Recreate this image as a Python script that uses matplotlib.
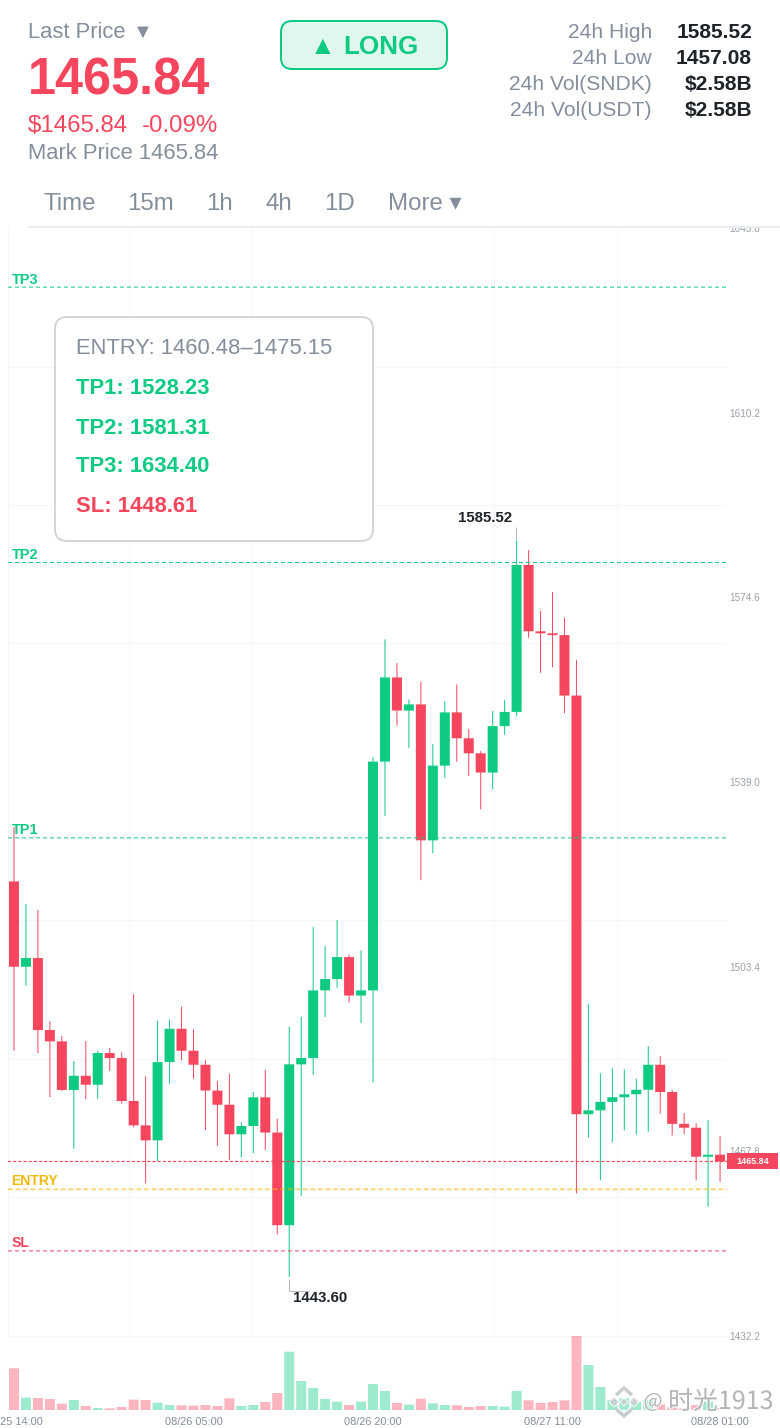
import matplotlib
matplotlib.use("Agg")
import matplotlib.pyplot as plt
import matplotlib.patheffects as pe
from matplotlib.patches import FancyBboxPatch, Rectangle, Polygon
from matplotlib.transforms import Bbox

# ---------- data ----------
first_open = 1519.84
closes = [1503.38, 1505.06, 1491.18, 1489.00, 1479.62, 1482.37, 1480.64, 1486.75, 1485.78, 1477.50,
          1472.81, 1469.92, 1485.01, 1491.43, 1487.19, 1484.49, 1479.52, 1476.78, 1471.08, 1472.68,
          1478.21, 1471.42, 1453.56, 1484.57, 1485.78, 1498.83, 1501.01, 1505.25, 1497.83, 1498.83,
          1542.93, 1559.16, 1552.77, 1553.96, 1527.75, 1542.16, 1552.42, 1547.43, 1544.53, 1540.82,
          1549.78, 1552.51, 1580.85, 1568.05, 1567.66, 1567.32, 1555.66, 1474.95, 1475.70, 1477.34,
          1478.23, 1478.79, 1479.67, 1484.49, 1479.23, 1473.10, 1472.35, 1466.76, 1467.15, 1465.84]
highs = [1530.31, 1515.47, 1514.31, 1492.92, 1490.03, 1485.21, 1489.06, 1487.19, 1487.71, 1486.88,
         1498.12, 1482.26, 1492.97, 1493.24, 1495.67, 1491.32, 1485.40, 1481.35, 1482.76, 1473.39,
         1479.23, 1483.53, 1474.08, 1491.82, 1493.74, 1511.03, 1507.43, 1512.38, 1505.77, 1506.54,
         1543.86, 1566.49, 1561.92, 1554.92, 1558.32, 1546.31, 1554.60, 1557.82, 1549.20, 1544.96,
         1552.67, 1554.79, 1585.52, 1583.70, 1571.94, 1575.61, 1570.65, 1562.50, 1496.19, 1482.84,
         1483.80, 1483.61, 1481.79, 1488.10, 1486.17, 1479.62, 1475.18, 1473.20, 1473.83, 1470.75]
lows = [1487.19, 1499.72, 1486.75, 1478.27, 1479.48, 1468.30, 1477.88, 1477.88, 1483.34, 1476.98,
        1472.43, 1461.63, 1465.93, 1480.83, 1485.34, 1481.79, 1471.91, 1468.88, 1466.12, 1466.64,
        1467.42, 1468.05, 1451.80, 1443.60, 1459.24, 1482.51, 1493.69, 1499.34, 1496.44, 1492.53,
        1481.10, 1532.49, 1549.84, 1545.54, 1520.09, 1525.24, 1539.81, 1542.90, 1540.20, 1533.72,
        1537.58, 1548.10, 1551.71, 1566.80, 1560.05, 1561.15, 1552.28, 1459.71, 1470.42, 1462.21,
        1469.59, 1471.85, 1471.08, 1471.58, 1475.05, 1470.88, 1471.14, 1462.21, 1457.12, 1461.88]
volumes = [125, 37, 36, 33, 19, 30, 12, 6, 5, 9, 31, 30, 22, 15, 14, 13, 15, 12, 35, 12,
           15, 24, 51, 175, 87, 66, 33, 25, 15, 25, 78, 57, 21, 16, 34, 20, 15, 14, 9, 12,
           12, 10, 57, 29, 21, 24, 29, 222, 135, 69, 30, 35, 24, 30, 17, 8, 5, 15, 25, 6]
price_ticks = [1432.2, 1467.8, 1503.4, 1539.0, 1574.6, 1610.2, 1645.8]
grid_prices = [1432.2, 1458.9, 1485.6, 1512.3, 1539.0, 1565.7, 1592.4, 1619.1, 1645.8]
time_positions = [0, 15, 30, 45, 59]
time_labels = ["08/25 14:00", "08/26 05:00", "08/26 20:00", "08/27 11:00", "08/28 01:00"]
grid_positions = [9.65, 19.8, 30, 40.1, 50.4]
last_price = 1465.84
entry = 1460.48
take_profits = {"TP1": 1528.23, "TP2": 1581.31, "TP3": 1634.40}
stop_loss = 1448.61
peak_index, trough_index = 42, 23

RED, GREEN, YELLOW = "#F6465D", "#0ECB81", "#F0B90B"
GREY, DARK, GRID = "#848E9C", "#1E2329", "#F5F6F7"
W, H = 780, 1428
FONT = ["Liberation Sans", "DejaVu Sans"]
plt.rcParams["font.family"] = FONT


def px(v):
    return v * 0.72


def box(l, t, r, b):
    return [l / W, 1 - b / H, (r - l) / W, (b - t) / H]


fig = plt.figure(figsize=(W / 100, H / 100), dpi=100, facecolor="white")
ax = fig.add_axes(box(8, 228, 727, 1336))
vax = fig.add_axes(box(8, 1336, 727, 1410), sharex=ax)
ov = fig.add_axes([0, 0, 1, 1], zorder=10)
ov.set_xlim(0, W)
ov.set_ylim(H, 0)
ov.axis("off")
ov.patch.set_alpha(0)

# ---------- candles ----------
idx = list(range(len(closes)))
opens = [first_open] + closes[:-1]
colors = [GREEN if c >= o else RED for o, c in zip(opens, closes)]
wicks = ax.vlines(idx, lows, highs, colors=colors, linewidth=px(1), zorder=2)
wicks.set_snap(False)
bodies = ax.bar(idx, [abs(c - o) for o, c in zip(opens, closes)], bottom=[min(o, c) for o, c in zip(opens, closes)],
                width=0.836, color=colors, linewidth=0, zorder=3)
for r in bodies:
    r.set_snap(False)
ax.set_xlim(-0.5, 59.58)
ax.set_ylim(1432.2, 1645.8)

# ---------- price axis ----------
ax.yaxis.tick_right()
ax.set_yticks(price_ticks)
ax.set_yticklabels([f"{v:.1f}" for v in price_ticks])
ax.set_yticks(grid_prices, minor=True)
ax.set_xticks(grid_positions, minor=True)
ax.tick_params(axis="y", which="major", length=0, pad=px(2), labelsize=px(10), labelcolor="#9AA1AB")
ax.tick_params(which="minor", length=0)
ax.tick_params(axis="x", which="major", length=0, labelbottom=False)
ax.grid(which="minor", color=GRID, linewidth=px(1), zorder=0)
ax.set_axisbelow(True)
for s in ("top", "right"):
    ax.spines[s].set_visible(False)
for s in ("left", "bottom"):
    ax.spines[s].set_color(GRID)
    ax.spines[s].set_linewidth(px(1))
for lab in ax.get_yticklabels():
    if lab.get_text() == "1645.8":
        lab.set_clip_on(True)
        lab.set_clip_box(Bbox([[0, 0], [W, H - 228]]))

# ---------- reference lines ----------
def level(price, color, lw, dash, alpha=1.0):
    ln = ax.axhline(price, color=color, linewidth=px(lw), linestyle=(0, dash), alpha=alpha, zorder=5)
    ln.set_snap(False)


for v in take_profits.values():
    level(v, GREEN, 1, (4, 3))
level(entry, YELLOW, 1.8, (2.6, 1.6), 0.6)
level(stop_loss, RED, 1, (4, 3))
level(last_price, RED, 1.2, (2.6, 1.7))


def t(x, y, s, size, color=GREY, weight="normal", ha="left"):
    return ov.text(x, y + 0.08 * size, s, fontsize=px(size), color=color, fontweight=weight, ha=ha, va="center")


label_y = {"TP3": 278.5, "TP2": 554, "TP1": 829}
for k, yy in label_y.items():
    t(12, yy, k, 14.5, GREEN, "bold")
t(11.5, 1180, "ENTRY", 14, YELLOW, "bold")
t(12, 1242, "SL", 14, RED, "bold")

# ---------- volume ----------
vols = vax.bar(idx, volumes, width=0.836, color=colors, alpha=0.4, linewidth=0)
for r in vols:
    r.set_snap(False)
vax.set_ylim(0, 222)
vax.set_xticks(time_positions)
vax.set_xticklabels(time_labels)
vax.tick_params(axis="x", which="both", length=0)
vax.tick_params(axis="x", which="major", pad=px(7), labelsize=px(11), labelcolor=GREY)
vax.tick_params(axis="y", left=False, labelleft=False)
for s in vax.spines.values():
    s.set_visible(False)
vax.patch.set_alpha(0)

# ---------- high / low notes ----------
leader = "#B4B8BF"
ov.plot([516.3, 516.3], [527, 539], color=leader, lw=px(1), solid_capstyle="butt")
ov.plot([289, 289, 309], [1279, 1290.5, 1290.5], color=leader, lw=px(1), solid_capstyle="butt")
t(485.5, 517, f"{highs[peak_index]:.2f}", 15, DARK, "bold", "center")
t(320, 1297, f"{lows[trough_index]:.2f}", 15, DARK, "bold", "center")

# ---------- last price tag ----------
ov.add_patch(Rectangle((727, 1153), 51, 16, facecolor=RED, edgecolor="none"))
t(752.5, 1161.2, f"{last_price:.2f}", 9, "white", "bold", "center")

# ---------- header ----------
t(28, 31, "Last Price", 22)
t(143, 30.5, "▼", 20, GREY, "normal", "center")
t(28, 76.5, "1465.84", 50.5, RED, "bold")
t(28, 124, "$1465.84", 24, RED)
t(142, 124, "-0.09%", 24, RED)
t(28, 152, "Mark Price 1465.84", 22)
for xx, s in zip([44, 127.5, 206.5, 266, 324.5, 388], ["Time", "15m", "1h", "4h", "1D", "More ▾"]):
    t(xx, 202, s, 24)
ov.plot([28, 780], [227, 227], color="#EAECEF", lw=px(2), solid_capstyle="butt")

ov.add_patch(FancyBboxPatch((281, 21), 166, 48, boxstyle="round,pad=0,rounding_size=11",
                            facecolor="#DFF7EC", edgecolor=GREEN, linewidth=px(2)))
t(323, 44.5, "▲", 26, GREEN, "bold", "center")
t(343, 45, "LONG", 26, GREEN, "bold")

stat_y = [31, 57, 83, 109]
stat_labels = ["24h High", "24h Low", "24h Vol(SNDK)", "24h Vol(USDT)"]
stat_values = ["1585.52", "1457.08", "$2.58B", "$2.58B"]
for yy, a, b in zip(stat_y, stat_labels, stat_values):
    t(652, yy, a, 21, GREY, "normal", "right")
    t(752, yy, b, 21, DARK, "bold", "right")

# ---------- info box ----------
ov.add_patch(FancyBboxPatch((55, 317), 318, 224, boxstyle="round,pad=0,rounding_size=12",
                            facecolor="white", edgecolor="#D2D5DA", linewidth=px(2), zorder=6))
info = [(347, "ENTRY: 1460.48–1475.15", GREY, "normal"), (387, "TP1: 1528.23", GREEN, "bold"),
        (427, "TP2: 1581.31", GREEN, "bold"), (465, "TP3: 1634.40", GREEN, "bold"),
        (505, "SL: 1448.61", RED, "bold")]
for yy, s, c, wgt in info:
    t(76, yy, s, 22, c, wgt).set_zorder(7)

# ---------- watermark ----------
halo = [pe.withStroke(linewidth=px(2.5), foreground="white", alpha=0.8)]
logo = "#C9CDD2"
cx, cy = 624, 1402
for pts in ([(-15, 0), (-10, -5), (-5, 0), (-10, 5)], [(15, 0), (10, -5), (5, 0), (10, 5)],
            [(-4, 0), (0, -4), (4, 0), (0, 4)]):
    ov.add_patch(Polygon([(cx + a, cy + b) for a, b in pts], closed=True, facecolor=logo, edgecolor="white",
                         linewidth=px(1), alpha=0.9))
for sign in (-1, 1):
    ln = ov.plot([cx - 8, cx, cx + 8], [cy + sign * 7, cy + sign * 14, cy + sign * 7], color=logo, lw=px(3.5),
                 solid_joinstyle="miter", solid_capstyle="butt")[0]
    ln.set_path_effects([pe.Stroke(linewidth=px(5.5), foreground="white"), pe.Normal()])
wm = ["Noto Sans CJK SC", "DejaVu Sans"]
ov.text(653, 1402, "@", family=wm, fontsize=px(20), color="#9A9DA2", alpha=0.7, ha="center", va="center",
        path_effects=halo)
ov.text(668, 1402, "时光1913", family=wm, fontsize=px(25), color="#9A9DA2", alpha=0.7, ha="left", va="center",
        path_effects=halo)

fig.savefig("out.png", dpi=100, facecolor="white")
